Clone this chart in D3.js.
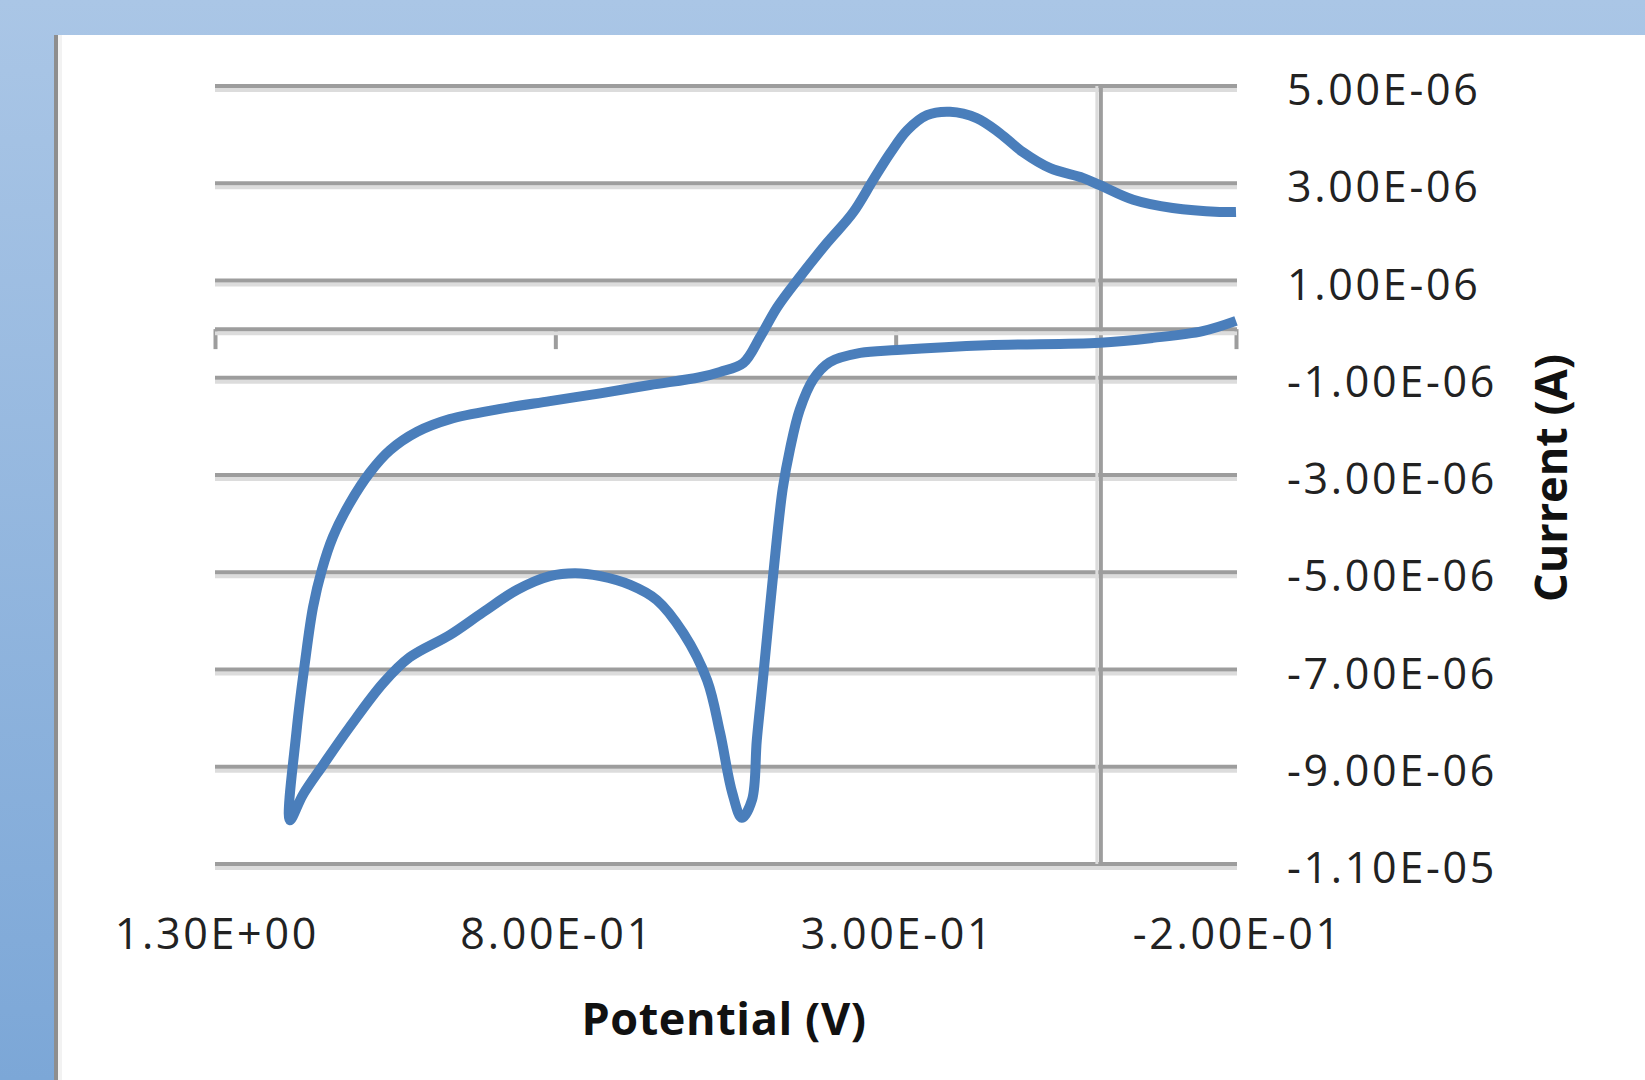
<!DOCTYPE html>
<html>
<head>
<meta charset="utf-8">
<script src="https://cdn.jsdelivr.net/npm/d3@7"></script>
<style>
  body { margin: 0; padding: 0; overflow: hidden; }
  text { font-family: "Open Sans", sans-serif; }
</style>
</head>
<body>
<div id="chart"></div>
<script>
// cyclic voltammogram, values
// upper branch runs from -0.2 V to the left vertex, lower branch back to -0.2 V
let potential = [
  -0.200, -0.176, -0.107, -0.049, 0.000, 0.025, 0.073, 0.113, 0.147, 0.181,
  0.220, 0.254, 0.283, 0.308, 0.333, 0.363, 0.401, 0.441, 0.474, 0.499,
  0.524, 0.558, 0.588, 0.661, 0.734, 0.808, 0.881, 0.955, 1.003, 1.043,
  1.072, 1.102, 1.127, 1.143, 1.156, 1.168, 1.180, 1.190,
  1.171, 1.141, 1.102, 1.053, 1.014, 0.955, 0.906, 0.856, 0.808, 0.771,
  0.734, 0.690, 0.651, 0.612, 0.577, 0.558, 0.540, 0.526, 0.511, 0.504,
  0.495, 0.480, 0.466, 0.455, 0.441, 0.421, 0.397, 0.352, 0.298, 0.166,
  0.000, -0.078, -0.151, -0.200
]
let current = [
  2.41e-6, 2.41e-6, 2.49e-6, 2.66e-6, 2.96e-6, 3.11e-6, 3.31e-6, 3.64e-6, 4.03e-6, 4.34e-6,
  4.47e-6, 4.40e-6, 4.09e-6, 3.62e-6, 3.07e-6, 2.39e-6, 1.77e-6, 1.07e-6, 0.45e-6, -0.16e-6,
  -0.70e-6, -0.88e-6, -0.99e-6, -1.15e-6, -1.32e-6, -1.48e-6, -1.64e-6, -1.85e-6, -2.11e-6, -2.49e-6,
  -2.94e-6, -3.58e-6, -4.28e-6, -4.95e-6, -5.72e-6, -6.87e-6, -8.24e-6, -10.1e-6,
  -9.58e-6, -8.96e-6, -8.18e-6, -7.28e-6, -6.75e-6, -6.29e-6, -5.82e-6, -5.36e-6, -5.08e-6, -5.02e-6,
  -5.08e-6, -5.26e-6, -5.57e-6, -6.25e-6, -7.22e-6, -8.30e-6, -9.54e-6, -10.05e-6, -9.68e-6, -8.45e-6,
  -7.20e-6, -5.06e-6, -3.29e-6, -2.45e-6, -1.66e-6, -1.03e-6, -0.68e-6, -0.49e-6, -0.43e-6, -0.33e-6,
  -0.28e-6, -0.18e-6, -0.04e-6, 0.17e-6
]
let xTicks = [1.3, 0.8, 0.3, -0.2]
let yTicks = [5e-6, 3e-6, 1e-6, -1e-6, -3e-6, -5e-6, -7e-6, -9e-6, -11e-6]

let W = 1645, H = 1080
let plot = { left: 215, right: 1237, top: 86, bottom: 864 }

// Excel style "0.00E+00"
function sci(v) {
  let parts = v.toExponential(2).split('e')
  let exp = parts[1]
  return parts[0] + 'E' + exp[0] + exp.slice(1).padStart(2, '0')
}

let svg = d3.select('#chart')
  .append('svg')
  .attr('width', W)
  .attr('height', H)

let defs = svg.append('defs')
let grad = defs.append('linearGradient')
  .attr('id', 'bg')
  .attr('x1', 0).attr('y1', 0).attr('x2', 0).attr('y2', 1)
grad.append('stop').attr('offset', '0%').attr('stop-color', '#aac6e6')
grad.append('stop').attr('offset', '100%').attr('stop-color', '#7ca7d7')

svg.append('rect')
  .attr('width', W).attr('height', H)
  .style('fill', 'url(#bg)')

// white chart panel with its grey left edge
svg.append('rect')
  .attr('x', 54).attr('y', 35)
  .attr('width', W - 54).attr('height', H - 35)
  .style('fill', '#ffffff')
svg.append('rect')
  .attr('x', 54).attr('y', 35)
  .attr('width', 4).attr('height', H - 35)
  .style('fill', '#8e8e8e')
svg.append('rect')
  .attr('x', 58).attr('y', 35)
  .attr('width', 4).attr('height', H - 35)
  .style('fill', '#f2f2f2')

let x = d3.scaleLinear().domain([1.3, -0.2]).range([plot.left, plot.right - 1])
let y = d3.scaleLinear().domain([-11e-6, 5e-6]).range([plot.bottom, plot.top])

let gridColor = '#9d9d9d', shadowColor = '#dcdcdc'

// horizontal gridlines (a soft shadow sits under each)
let grid = svg.append('g').attr('class', 'grid')
grid.selectAll('.shadow')
  .data(yTicks)
  .enter().append('line')
  .attr('class', 'shadow')
  .attr('x1', plot.left).attr('x2', plot.right)
  .attr('y1', d => y(d) + 4).attr('y2', d => y(d) + 4)
  .style('stroke', shadowColor)
  .style('stroke-width', 4)
grid.selectAll('.major')
  .data(yTicks)
  .enter().append('line')
  .attr('class', 'major')
  .attr('x1', plot.left).attr('x2', plot.right)
  .attr('y1', d => y(d)).attr('y2', d => y(d))
  .style('stroke', gridColor)
  .style('stroke-width', 4)

// vertical axis line sits at 0 V
svg.append('line')
  .attr('x1', x(0) - 3).attr('x2', x(0) - 3)
  .attr('y1', plot.top).attr('y2', plot.bottom)
  .style('stroke', shadowColor)
  .style('stroke-width', 3)
svg.append('line')
  .attr('x1', x(0) + 1).attr('x2', x(0) + 1)
  .attr('y1', plot.top).attr('y2', plot.bottom)
  .style('stroke', gridColor)
  .style('stroke-width', 4)

// horizontal axis at 0 A with tick marks hanging down
let xAxisLine = svg.append('g')
  .attr('class', 'axis axis--x0')
  .attr('transform', 'translate(0,' + y(0) + ')')
  .call(d3.axisBottom(x).tickValues(xTicks).tickSize(20).tickFormat(''))
xAxisLine.select('.domain').remove()
xAxisLine.selectAll('line')
  .style('stroke', gridColor)
  .style('stroke-width', 4)
xAxisLine.append('line')
  .attr('x1', plot.left).attr('x2', plot.right)
  .attr('y1', 4).attr('y2', 4)
  .style('stroke', shadowColor)
  .style('stroke-width', 4)
xAxisLine.append('line')
  .attr('x1', plot.left).attr('x2', plot.right)
  .style('stroke', gridColor)
  .style('stroke-width', 4)

// x labels sit low, under the plot
let xLabels = svg.append('g')
  .attr('class', 'axis axis--x')
  .attr('transform', 'translate(0,' + plot.bottom + ')')
  .call(d3.axisBottom(x).tickValues(xTicks).tickSize(0).tickPadding(0).tickFormat(sci))
xLabels.select('.domain').remove()
xLabels.selectAll('text')
  .attr('dy', null)
  .attr('y', 85)
  .attr('dx', '1.3px')
  .style('font-family', '"Open Sans", sans-serif')
  .style('font-size', '43px')
  .style('letter-spacing', '2.7px')
  .style('fill', '#222222')

// y labels on the right, left aligned
let yLabels = svg.append('g')
  .attr('class', 'axis axis--y')
  .attr('transform', 'translate(' + plot.right + ',0)')
  .call(d3.axisRight(y).tickValues(yTicks).tickSize(0).tickPadding(50).tickFormat(sci))
yLabels.select('.domain').remove()
yLabels.selectAll('text')
  .attr('dy', '0.43em')
  .style('font-family', '"Open Sans", sans-serif')
  .style('font-size', '43px')
  .style('letter-spacing', '2.7px')
  .style('fill', '#222222')

// the voltammogram
let points = potential.map((v, i) => [v, current[i]])
let line = d3.line()
  .curve(d3.curveCatmullRom.alpha(0.5))
  .x(d => x(d[0]))
  .y(d => y(d[1]))

svg.append('path')
  .datum(points)
  .attr('d', line)
  .style('fill', 'none')
  .style('stroke', '#4a7ebb')
  .style('stroke-width', 10)
  .style('stroke-linejoin', 'round')
  .style('stroke-linecap', 'butt')

// axis titles
svg.append('text')
  .attr('x', 724)
  .attr('y', 1035)
  .attr('text-anchor', 'middle')
  .style('font-size', '45px')
  .style('font-weight', 'bold')
  .style('letter-spacing', '0.6px')
  .style('fill', '#111111')
  .text('Potential (V)')

svg.append('text')
  .attr('transform', 'translate(1567,478) rotate(-90)')
  .attr('text-anchor', 'middle')
  .style('font-size', '45px')
  .style('font-weight', 'bold')
  .style('fill', '#111111')
  .text('Current (A)')
</script>
</body>
</html>
